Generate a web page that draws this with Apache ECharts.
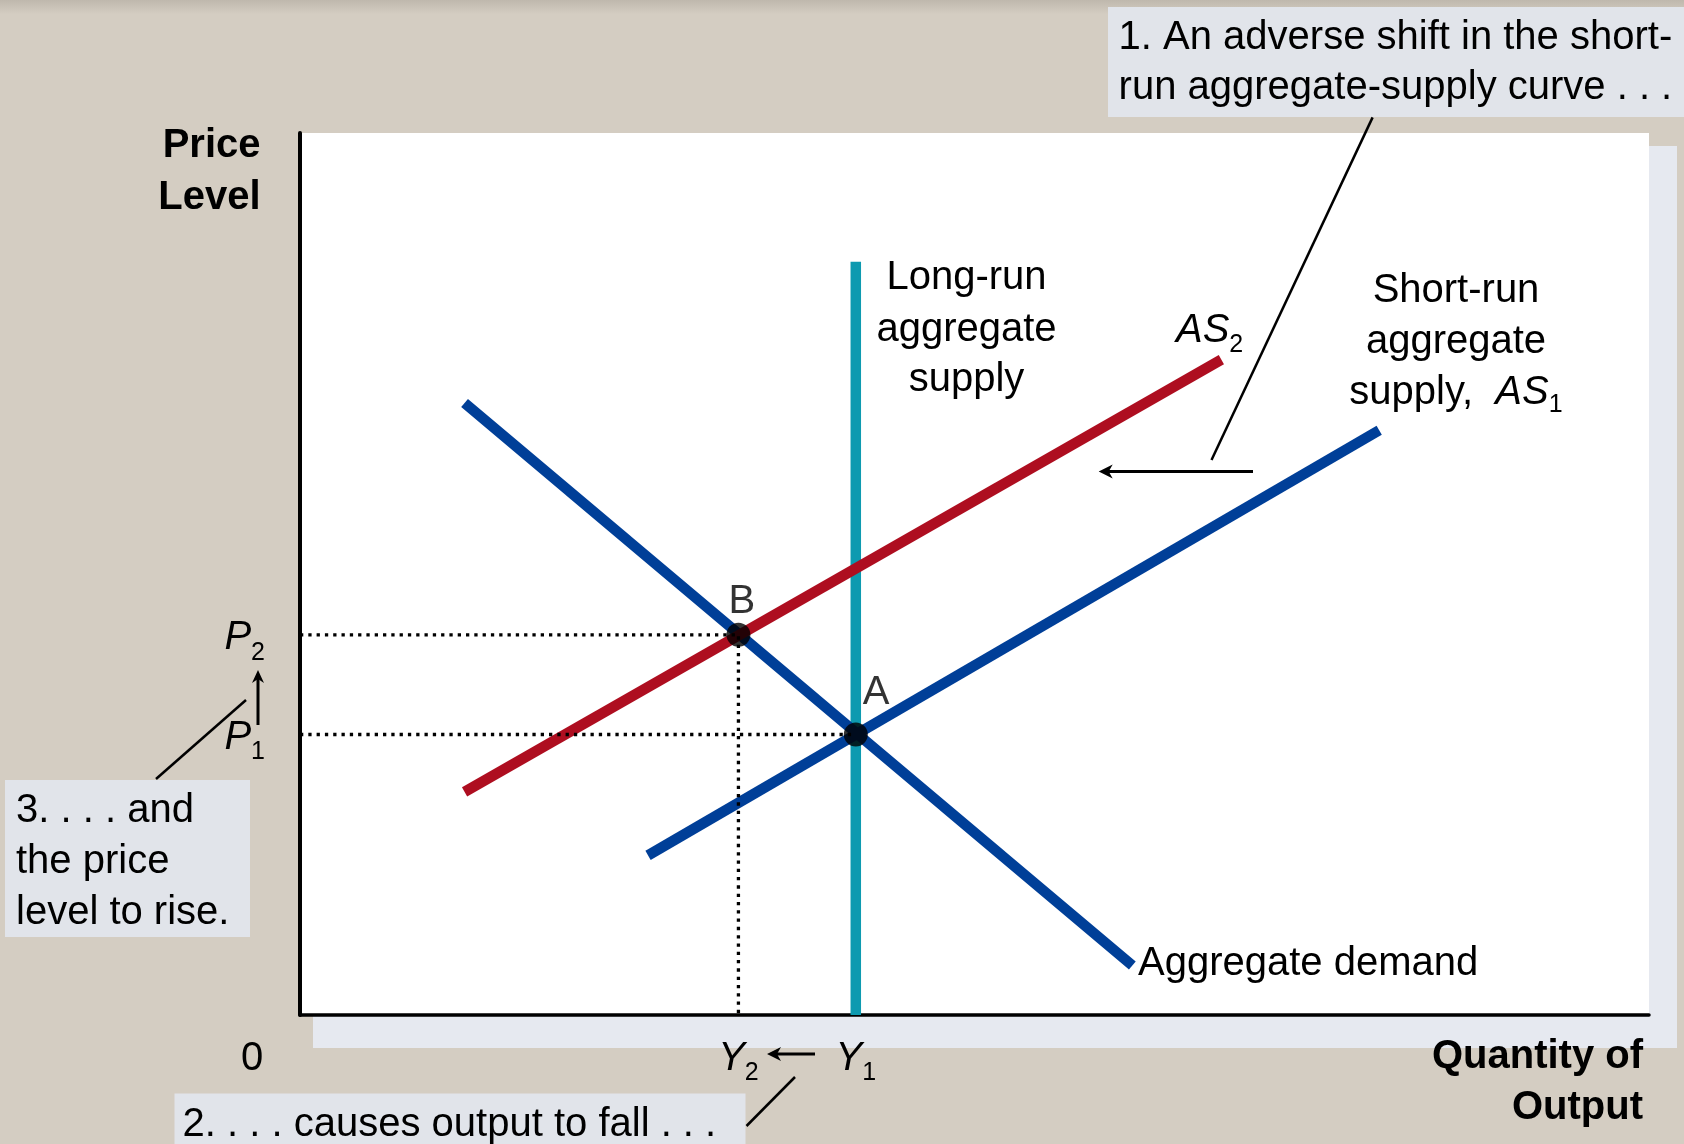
<!DOCTYPE html>
<html>
<head>
<meta charset="utf-8">
<title>Adverse shift in aggregate supply</title>
<script src="https://cdn.jsdelivr.net/npm/echarts@6.0.0/dist/echarts.min.js"></script>
<style>
  html, body { margin: 0; padding: 0; background: #d4cdc2; }
  #chart { width: 1684px; height: 1144px; }
</style>
</head>
<body>
<div id="chart"></div>
<script>
// curve end points [quantity of output, price level], both on a 0-100 scale
const lras = [[41.2, 0], [41.2, 85.4]];
const as1 = [[25.8, 18.1], [80.0, 66.3]];
const as2 = [[12.2, 25.3], [68.3, 74.3]];
const ad = [[12.2, 69.4], [61.7, 5.6]];

// equilibrium points
const pointNames = ['A', 'B'];
const pointValues = [[41.2, 31.8], [32.5, 43.1]];

// tick positions and their subscripts (P1, P2 / Y2, Y1)
const priceTicks = [31.8, 43.1];
const priceSubs = ['1', '2'];
const outputTicks = [32.5, 41.2];
const outputSubs = ['2', '1'];

const FONT = '"Liberation Sans", Arial, Helvetica, sans-serif';
const FS = 40;
const BLUE = '#003f98';
const RED = '#ae0e20';
const TEAL = '#0d9ab0';

const chart = echarts.init(document.getElementById('chart'), null, { renderer: 'canvas' });

// rich styles for italic letter + subscript digit
function subRich(mainLH) {
    return {
        i: { fontFamily: FONT, fontSize: FS, fontStyle: 'italic', lineHeight: mainLH, color: '#000' },
        s: { fontFamily: FONT, fontSize: 25, lineHeight: 25, verticalAlign: 'bottom', color: '#000' },
        n: { fontFamily: FONT, fontSize: FS, lineHeight: mainLH, color: '#000' }
    };
}

// text placed by its baseline
function txt(x, base, text, o) {
    o = o || {};
    const fs = o.fs || FS;
    return {
        type: 'text', z: 20, x: x, y: base - 0.27 * fs,
        style: {
            text: text, fill: '#000', align: o.align || 'left', verticalAlign: 'middle',
            fontSize: fs, fontFamily: FONT, fontWeight: o.bold ? 'bold' : 'normal',
            rich: o.rich
        }
    };
}
function box(x, y, w, h) {
    return { type: 'rect', z: 15, shape: { x: x, y: y, width: w, height: h }, style: { fill: '#e1e4ea' } };
}
function seg(x1, y1, x2, y2, w) {
    return { type: 'line', z: 16, shape: { x1: x1, y1: y1, x2: x2, y2: y2 }, style: { stroke: '#000', lineWidth: w || 2.5 } };
}
function headLeft(tx, ty) {
    return { type: 'polygon', z: 17, shape: { points: [[tx, ty], [tx + 14, ty - 7], [tx + 10, ty], [tx + 14, ty + 7]] }, style: { fill: '#000' } };
}
function headUp(tx, ty) {
    return { type: 'polygon', z: 17, shape: { points: [[tx, ty], [tx - 6, ty + 13], [tx, ty + 9], [tx + 6, ty + 13]] }, style: { fill: '#000' } };
}

const lineSeries = (name, data, color, z) => ({
    name: name, type: 'line', data: data, z: z,
    symbol: 'none', showSymbol: false, silent: true,
    lineStyle: { color: color, width: 10.5, cap: 'butt' }
});

const guideStyle = { color: '#000', width: 3.3, type: [3.3, 5] };
const labelPos = { A: [19, -50], B: [2, -41] };

const option = {
    backgroundColor: '#d4cdc2',
    animation: false,
    grid: { left: 300, top: 133, width: 1349, height: 882, show: false },
    xAxis: {
        type: 'value', min: 0, max: 100,
        splitLine: { show: false },
        axisTick: { show: false },
        axisLine: { show: true, onZero: false, lineStyle: { color: '#000', width: 3.5 } },
        axisLabel: {
            customValues: outputTicks,
            margin: 17,
            formatter: function (v) {
                const k = outputTicks.indexOf(v);
                return k < 0 ? '' : '{i|Y}{s|' + outputSubs[k] + '}';
            },
            rich: subRich(54)
        }
    },
    yAxis: {
        type: 'value', min: 0, max: 100,
        splitLine: { show: false },
        axisTick: { show: false },
        axisLine: { show: true, onZero: false, lineStyle: { color: '#000', width: 4 } },
        axisLabel: {
            customValues: priceTicks,
            margin: 35,
            padding: [7, 0, 0, 0],
            formatter: function (v) {
                const k = priceTicks.indexOf(v);
                return k < 0 ? '' : '{i|P}{s|' + priceSubs[k] + '}';
            },
            rich: subRich(54)
        }
    },
    graphic: [
        // page shading, plot shadow and plot area
        { type: 'rect', z: -10, shape: { x: 0, y: 0, width: 1684, height: 14 },
          style: { fill: new echarts.graphic.LinearGradient(0, 0, 0, 1, [{ offset: 0, color: '#bfb8ad' }, { offset: 1, color: '#d4cdc2' }]) } },
        { type: 'rect', z: -10, shape: { x: 313, y: 146, width: 1364, height: 902 }, style: { fill: '#e6e9f0' } },
        { type: 'rect', z: -9, shape: { x: 300, y: 133, width: 1349, height: 882 }, style: { fill: '#ffffff' } },

        // axis titles
        txt(260.5, 157, 'Price', { bold: true, align: 'right' }),
        txt(260.5, 208.6, 'Level', { bold: true, align: 'right' }),
        txt(1643, 1068, 'Quantity of', { bold: true, align: 'right' }),
        txt(1643, 1119, 'Output', { bold: true, align: 'right' }),
        txt(252, 1070, '0', { align: 'center' }),

        // curve labels
        txt(966.5, 289, 'Long-run', { align: 'center' }),
        txt(966.5, 341, 'aggregate', { align: 'center' }),
        txt(966.5, 391, 'supply', { align: 'center' }),
        txt(1456, 302, 'Short-run', { align: 'center' }),
        txt(1456, 353, 'aggregate', { align: 'center' }),
        txt(1456, 404, '{n|supply,  }{i|AS}{s|1}', { align: 'center', rich: subRich(48) }),
        txt(1176, 341.7, '{i|AS}{s|2}', { rich: subRich(54) }),
        txt(1138, 975, 'Aggregate demand'),

        // annotation 1
        box(1108, 7, 576, 110),
        txt(1118.6, 49, '1. An adverse shift in the short-'),
        txt(1118.6, 99, 'run aggregate-supply curve . . .'),
        seg(1372.6, 117.4, 1211.5, 460),
        seg(1253, 471.5, 1106, 471.5, 3),
        headLeft(1098.7, 471.5),

        // annotation 2
        box(174.5, 1093.5, 571, 60),
        txt(182.6, 1135.5, '2. . . . causes output to fall . . .'),
        seg(746.5, 1126, 795, 1077),
        seg(815, 1054, 774, 1054, 3),
        headLeft(767, 1054),

        // annotation 3
        box(5, 780, 245, 157),
        txt(16, 822, '3. . . . and'),
        txt(16, 873, 'the price'),
        txt(16, 924, 'level to rise.'),
        seg(156, 779, 246, 700),
        seg(258, 725, 258, 678, 3),
        headUp(258, 670)
    ],
    series: [
        lineSeries('Long-run aggregate supply', lras, TEAL, 2),
        lineSeries('Aggregate demand', ad, BLUE, 3),
        lineSeries('AS2', as2, RED, 4),
        lineSeries('AS1', as1, BLUE, 4),
        {
            name: 'guides', type: 'line', z: 5, symbol: 'none', silent: true,
            data: [[0, priceTicks[1]], [outputTicks[0], priceTicks[1]], [outputTicks[0], 0]],
            lineStyle: guideStyle
        },
        {
            name: 'guides P1', type: 'line', z: 5, symbol: 'none', silent: true,
            data: [[0, priceTicks[0]], [outputTicks[1], priceTicks[0]]],
            lineStyle: guideStyle
        },
        {
            name: 'equilibria', type: 'scatter', z: 6, symbolSize: 24,
            itemStyle: { color: '#000' },
            data: pointNames.map((n, i) => ({
                name: n, value: pointValues[i],
                label: {
                    show: true, formatter: '{b}', position: labelPos[n],
                    align: 'left', verticalAlign: 'top',
                    fontFamily: FONT, fontSize: FS, lineHeight: 40, color: '#000'
                }
            }))
        }
    ]
};

chart.setOption(option);
</script>
</body>
</html>
